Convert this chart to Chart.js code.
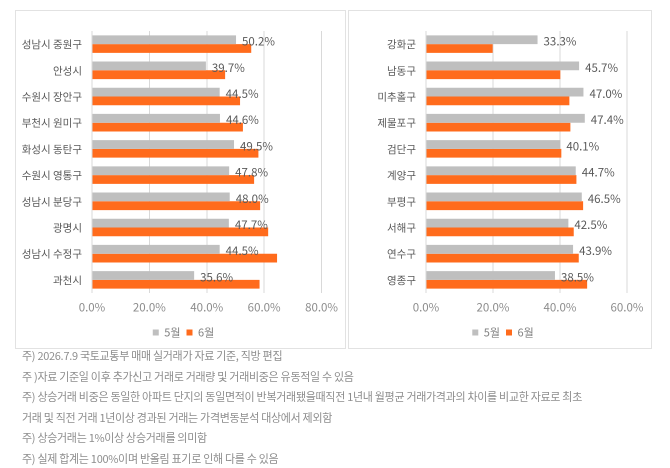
<!DOCTYPE html>
<html>
<head>
<meta charset="utf-8">
<script src="https://cdn.jsdelivr.net/npm/chart.js@4"></script>
<style>
  html, body { margin:0; padding:0; background:#ffffff; }
  body { width:670px; height:468px; position:relative; overflow:hidden; font-family:"Noto Sans CJK KR","Noto Sans",sans-serif; }
  .panel { position:absolute; border:1px solid #e2e2e2; box-sizing:border-box; }
  canvas { position:absolute; }
  #notes { position:absolute; left:22px; top:345px; font-size:11px; line-height:20.6px; color:#8e8e8e; letter-spacing:-0.3px; white-space:nowrap; }
</style>
</head>
<body>
<div class="panel" style="left:15px;top:10px;width:331px;height:339px;"></div>
<div class="panel" style="left:348px;top:10px;width:304px;height:339px;"></div>
<canvas id="c1" style="left:16px;top:11px;width:329px;height:337px;"></canvas>
<canvas id="c2" style="left:349px;top:11px;width:302px;height:337px;"></canvas>
<div id="notes"></div>
<script>
// ---- data ----
const seriesNames = ['5월', '6월'];
const leftCategories = ['성남시 중원구','안성시','수원시 장안구','부천시 원미구','화성시 동탄구','수원시 영통구','성남시 분당구','광명시','성남시 수정구','과천시'];
const leftMay  = [50.2, 39.7, 44.5, 44.6, 49.5, 47.8, 48.0, 47.7, 44.5, 35.6];
const leftJune = [55.5, 46.4, 51.6, 52.6, 58.0, 56.5, 58.6, 61.4, 64.5, 58.4];
const leftTicks = [0, 20, 40, 60, 80];

const rightCategories = ['강화군','남동구','미추홀구','제물포구','검단구','계양구','부평구','서해구','연수구','영종구'];
const rightMay  = [33.3, 45.7, 47.0, 47.4, 40.1, 44.7, 46.5, 42.5, 43.9, 38.5];
const rightJune = [19.9, 40.1, 42.8, 43.1, 40.4, 44.9, 46.9, 44.1, 45.6, 48.1];
const rightTicks = [0, 20, 40, 60];

const footnotes = [
  '주) 2026.7.9 국토교통부 매매 실거래가 자료 기준, 직방 편집',
  '주 )자료 기준일 이후 추가신고 거래로 거래량 및 거래비중은 유동적일 수 있음',
  '주) 상승거래 비중은 동일한 아파트 단지의 동일면적이 반복거래됐을때직전 1년내 월평균 거래가격과의 차이를 비교한 자료로 최초',
  '거래 및 직전 거래 1년이상 경과된 거래는 가격변동분석 대상에서 제외함',
  '주) 상승거래는 1%이상 상승거래를 의미함',
  '주) 실제 합계는 100%이며 반올림 표기로 인해 다를 수 있음'
];

document.getElementById('notes').innerHTML = footnotes.map(t => '<div>' + t + '</div>').join('');

const GRAY = '#bfbfbf';
const ORANGE = '#ff6b1c';
const FONT = '"Noto Sans CJK KR","Noto Sans",sans-serif';

const labelPlugin = {
  id: 'mayLabels',
  afterDatasetsDraw(chart) {
    const ctx = chart.ctx;
    const meta = chart.getDatasetMeta(0);
    const data = chart.data.datasets[0].data;
    ctx.save();
    ctx.font = '11.5px ' + FONT;
    ctx.fillStyle = '#595959';
    ctx.textAlign = 'left';
    ctx.textBaseline = 'middle';
    meta.data.forEach((bar, i) => {
      ctx.fillText(data[i].toFixed(1) + '%', bar.x + 6, bar.y + 1.5);
    });
    ctx.restore();
  }
};

function legendFix(shift) {
  return {
    id: 'legendFix',
    beforeInit(chart) {
      const lg = chart.legend;
      if (lg) {
        const orig = lg.fit;
        lg.fit = function() { orig.call(this); this.height = 27; };
      }
    },
    afterLayout(chart) {
      const lg = chart.legend;
      if (lg) { lg.left += shift; lg.right += shift; }
    }
  };
}

function makeChart(id, cats, may, june, ticks, yWidth, padRight) {
  const maxV = ticks[ticks.length - 1];
  return new Chart(document.getElementById(id), {
    type: 'bar',
    data: {
      labels: cats,
      datasets: [
        { label: seriesNames[0], data: may, backgroundColor: GRAY, categoryPercentage: 0.67, barPercentage: 1.0 },
        { label: seriesNames[1], data: june, backgroundColor: ORANGE, categoryPercentage: 0.67, barPercentage: 1.0 }
      ]
    },
    options: {
      indexAxis: 'y',
      responsive: false,
      animation: false,
      devicePixelRatio: 2,
      layout: { padding: { left: 0, right: padRight, top: 20, bottom: 0 } },
      scales: {
        x: {
          min: 0, max: maxV,
          afterBuildTicks(s) { s.ticks = ticks.map(v => ({ value: v })); },
          afterFit(s) { s.height = 28; },
          grid: { color: '#d9d9d9', drawTicks: false, lineWidth: 1 },
          border: { display: false },
          ticks: {
            autoSkip: false, padding: 7,
            color: '#8c8c8c',
            font: { family: FONT, size: 11.5 },
            callback: v => Number(v).toFixed(1) + '%'
          }
        },
        y: {
          afterFit(s) { s.width = yWidth; },
          grid: { display: false, drawTicks: false },
          border: { display: false },
          ticks: { padding: 10, color: '#595959', font: { family: FONT, size: 10.5 } }
        }
      },
      plugins: {
        tooltip: { enabled: false },
        legend: {
          position: 'bottom',
          labels: {
            boxWidth: 6, boxHeight: 6, padding: 6,
            color: '#7f7f7f',
            font: { family: FONT, size: 11 }
          }
        }
      }
    },
    plugins: [labelPlugin, legendFix(padRight / 2 + 3)]
  });
}

function sizeCanvas(id) {
  const c = document.getElementById(id);
  c.width = parseFloat(c.style.width);
  c.height = parseFloat(c.style.height);
}
sizeCanvas('c1'); sizeCanvas('c2');
makeChart('c1', leftCategories, leftMay, leftJune, leftTicks, 76, 22);
makeChart('c2', rightCategories, rightMay, rightJune, rightTicks, 77, 24);
</script>
</body>
</html>
